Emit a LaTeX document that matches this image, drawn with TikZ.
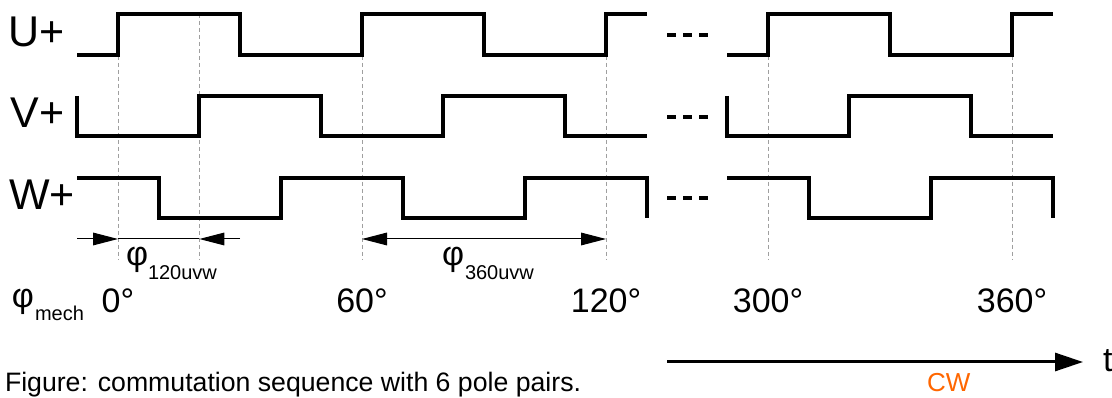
\documentclass[tikz,border=0pt]{standalone}
\usepackage{fontspec}
\setmainfont{Liberation Sans}
\usetikzlibrary{arrows.meta}
\newcommand\pxfont[1]{\fontsize{#1}{#1}\selectfont}
\definecolor{cworange}{RGB}{255,102,0}
\begin{document}
\begin{tikzpicture}[x=0.75pt,y=-0.75pt,
  wave/.style={line width=3pt, line join=miter},
  gridline/.style={gray!75, line width=0.75pt, dash pattern=on 3pt off 2.25pt},
  dimline/.style={line width=0.75pt},
  dimtip/.style={-{Triangle[length=18.75pt,width=9.5pt]}},
  lbl/.style={inner sep=0pt, outer sep=0pt, anchor=base west},
  deg/.style={inner sep=0pt, outer sep=0pt, anchor=base, font=\pxfont{25.5pt}},
  dots/.style={line width=3pt, dash pattern=on 6.75pt off 5.25pt}]
\useasboundingbox (0,0) rectangle (1112,398);
% grid lines
\foreach \gx in {118,199.33,362,606,768,1012}
  \draw[gridline] (\gx,14) -- (\gx,260);
% left waveforms
\draw[wave] (77.33,55) -- (118,55) -- (118,14) -- (240,14) -- (240,55) -- (362,55) -- (362,14) -- (484,14) -- (484,55) -- (606,55) -- (606,14) -- (646.67,14);
\draw[wave] (77.33,96) -- (77.33,136) -- (199.33,136) -- (199.33,96) -- (321.33,96) -- (321.33,136) -- (443.33,136) -- (443.33,96) -- (565.33,96) -- (565.33,136) -- (646.67,136);
\draw[wave] (77.33,178) -- (158.67,178) -- (158.67,218) -- (280.67,218) -- (280.67,178) -- (402.67,178) -- (402.67,218) -- (524.67,218) -- (524.67,178) -- (646.67,178) -- (646.67,218);
% right waveforms
\draw[wave] (727.33,55) -- (768,55) -- (768,14) -- (890,14) -- (890,55) -- (1012,55) -- (1012,14) -- (1052.67,14);
\draw[wave] (727.33,96) -- (727.33,136) -- (849.33,136) -- (849.33,96) -- (971.33,96) -- (971.33,136) -- (1052.67,136);
\draw[wave] (727.33,178) -- (808.67,178) -- (808.67,218) -- (930.67,218) -- (930.67,178) -- (1052.67,178) -- (1052.67,218);
% ellipsis dashes
\draw[dots] (667,35) -- (708,35);
\draw[dots] (667,117) -- (708,117);
\draw[dots] (667,198) -- (708,198);
% signal labels
\node[lbl, font=\pxfont{32.25pt}] (lu) at (8,47) {U+};
\node[lbl, font=\pxfont{32.25pt}] (lv) at (11,128) {V+};
\node[lbl, font=\pxfont{32.25pt}] (lw) at (9,210) {W+};
% dimension arrows
\coordinate (a0) at (77,239);
\coordinate (a1) at (118,239);
\coordinate (a2) at (199.33,239);
\coordinate (a3) at (240,239);
\coordinate (b1) at (362,239);
\coordinate (b2) at (606,239);
\draw[dimline] (a1) -- (a2);
\draw[dimline,dimtip] (a0) -- (a1);
\draw[dimline,dimtip] (a3) -- (a2);
\draw[dimline,{Triangle[length=18.75pt,width=9.5pt]}-{Triangle[length=18.75pt,width=9.5pt]}] (b1) -- (b2);
\node[lbl, font=\pxfont{25.5pt}] (p120) at (126,266) {φ};
\node[lbl, font=\pxfont{15pt}] (p120s) at (148,280) {120uvw};
\node[lbl, font=\pxfont{25.5pt}] (p360) at (442,266) {φ};
\node[lbl, font=\pxfont{15pt}] (p360s) at (465,280) {360uvw};
\node[lbl, font=\pxfont{25.5pt}] (pm) at (12,308) {φ};
\node[lbl, font=\pxfont{15pt}] (pms) at (35,321) {mech};
% degree labels
\node[deg] (d0) at (118,313) {0°};
\node[deg] (d60) at (362,313) {60°};
\node[deg] (d120) at (606,313) {120°};
\node[deg] (d300) at (768,313) {300°};
\node[deg] (d360) at (1012,313) {360°};
% time arrow
\coordinate (t0) at (667,362);
\coordinate (t1) at (1083,362);
\draw[line width=2.25pt,-{Triangle[length=21pt,width=13.5pt]}] (t0) -- (t1);
\node[lbl, font=\pxfont{25.5pt}] (tl) at (1103,372) {t};
\node[lbl, font=\pxfont{19.5pt}, text=cworange] (cw) at (927,392) {CW};
\node[lbl, font=\pxfont{20pt}] (cap) at (5,391) {Figure: commutation sequence with 6 pole pairs.};
\end{tikzpicture}
\end{document}
